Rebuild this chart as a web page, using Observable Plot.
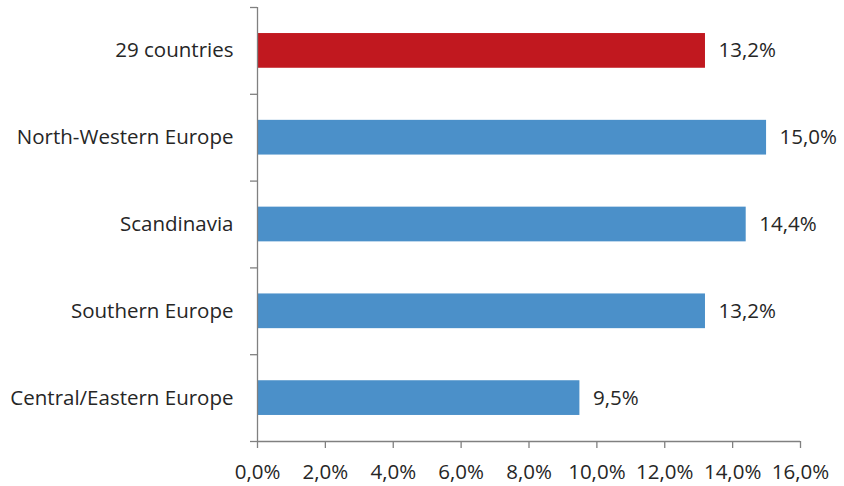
<!DOCTYPE html>
<html><head><meta charset="utf-8">
<script src="https://cdn.jsdelivr.net/npm/d3@7"></script>
<script src="https://cdn.jsdelivr.net/npm/@observablehq/plot@0.6"></script>
<style>body{margin:0;background:#fff}</style>
</head><body><div id="chart"></div>
<script>
const categories = ["29 countries", "North-Western Europe", "Scandinavia", "Southern Europe", "Central/Eastern Europe"];
const values = [13.2, 15.0, 14.4, 13.2, 9.5];
const colors = ["#C1181F", "#4B90C9", "#4B90C9", "#4B90C9", "#4B90C9"];
const xTicks = [0, 2, 4, 6, 8, 10, 12, 14, 16];

const fmt = v => v.toFixed(1).replace(".", ",") + "%";
const data = categories.map((c, i) => ({category: c, value: values[i], color: colors[i], i}));
const axisColor = "#808080";

const chart = Plot.plot({
  width: 844, height: 486,
  marginLeft: 257, marginRight: 44, marginTop: 7, marginBottom: 45,
  style: {fontFamily: "'Open Sans', sans-serif", fontSize: "20.5px", color: "#262626", background: "#fff"},
  x: {domain: [0, 16], label: null},
  y: {domain: [0, categories.length], reverse: true, label: null},
  color: {type: "identity"},
  marks: [
    Plot.rectX(data, {x1: 0, x2: "value", y1: d => d.i + 0.3, y2: d => d.i + 0.7, fill: "color"}),
    Plot.text(data, {x: "value", y: d => d.i + 0.5, text: d => fmt(d.value), dx: 13, textAnchor: "start", fill: "#262626"}),
    Plot.axisY(d3.range(categories.length + 1), {tickSize: 7, fill: "none", stroke: axisColor, strokeWidth: 1.3, label: null}),
    Plot.axisY(categories.map((c, i) => i + 0.5), {tickSize: 0, tickPadding: 24, tickFormat: d => categories[Math.floor(d)], fill: "#262626", label: null}),
    Plot.ruleX([0], {stroke: axisColor, strokeWidth: 1.3}),
    Plot.ruleY([categories.length], {stroke: axisColor, strokeWidth: 1.3}),
    Plot.axisX(xTicks, {tickSize: 7, tickPadding: 16, tickFormat: fmt, stroke: axisColor, strokeWidth: 1.3, fill: "#262626", label: null})
  ]
});
document.getElementById("chart").appendChild(chart);
</script>
</body></html>
